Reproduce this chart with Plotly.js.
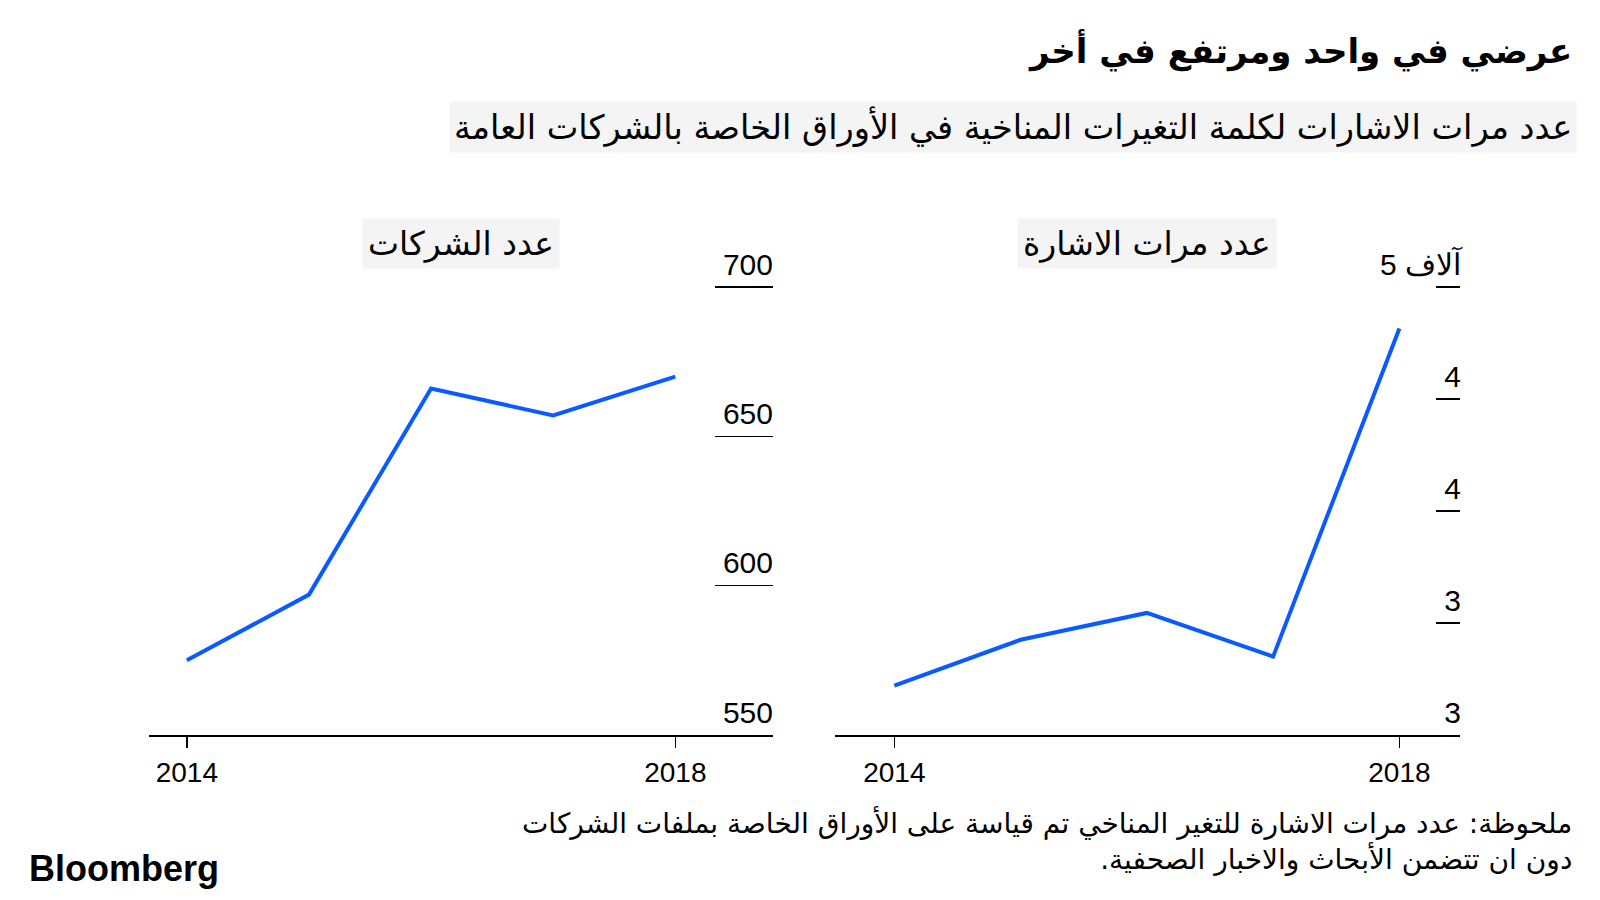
<!DOCTYPE html>
<html>
<head>
<meta charset="utf-8">
<script src="https://cdn.plot.ly/plotly-3.0.1.min.js"></script>
<style>
  html, body { margin: 0; padding: 0; background: #ffffff; }
  #chart { width: 1600px; height: 900px; }
</style>
</head>
<body>
<div id="chart"></div>
<script>
// ---- data ----
const years = [2014, 2015, 2016, 2017, 2018];
const companies = [575, 597, 666, 657, 670];          // عدد الشركات
const mentions = [3220, 3425, 3545, 3350, 4815];      // عدد مرات الاشارة
const xTickVals = [2014, 2018];
const xTickText = ['2014', '2018'];
const leftTickVals = [550, 600, 650, 700];
const leftTickText = ['550', '600', '650', '700'];
const rightTickVals = [3000, 3500, 4000, 4500, 5000];
const rightTickText = ['3', '3', '4', '4', '\u0622\u0644\u0627\u0641 5'];

const titleText = 'عرضي في واحد ومرتفع في أخر';
const subtitleText = 'عدد مرات الاشارات لكلمة التغيرات المناخية في الأوراق الخاصة بالشركات العامة';
const leftPanelTitle = 'عدد الشركات';
const rightPanelTitle = 'عدد مرات الاشارة';
const noteLine1 = 'ملحوظة: عدد مرات الاشارة للتغير المناخي تم قياسة على الأوراق الخاصة بملفات الشركات';
const noteLine2 = 'دون ان تتضمن الأبحاث والاخبار الصحفية.\u200F';

const BLUE = '#0a5bff';
const numFont = 'Liberation Sans, Arial, sans-serif';
const arFont = 'DejaVu Sans, Noto Sans, sans-serif';

const W = 1600, H = 900;
const py = v => 1 - v / H;   // pixel row -> paper y
const px = v => v / W;       // pixel col -> paper x

const traces = [
  { x: years, y: companies, xaxis: 'x', yaxis: 'y', type: 'scatter', mode: 'lines',
    line: { color: BLUE, width: 4 }, hoverinfo: 'skip' },
  { x: years, y: mentions, xaxis: 'x2', yaxis: 'y2', type: 'scatter', mode: 'lines',
    line: { color: BLUE, width: 4 }, hoverinfo: 'skip' }
];

const xBase = {
  showgrid: false, zeroline: false, showline: true, linecolor: '#000', linewidth: 2,
  ticks: 'outside', ticklen: 11, tickwidth: 1.5, tickcolor: '#000',
  tickmode: 'array', tickvals: xTickVals, ticktext: xTickText,
  tickfont: { family: numFont, size: 28, color: '#000' }, fixedrange: true
};
const yBase = {
  showgrid: false, zeroline: false, showline: false, side: 'right',
  ticks: 'inside', tickwidth: 1.5, tickcolor: '#000', tickmode: 'array',
  ticklabelposition: 'inside', ticklabeloverflow: 'allow',
  tickfont: { family: numFont, size: 30, color: '#000' }, fixedrange: true
};

// plot area: bottom tick at 735px, top tick at 287px; extra headroom above for labels
const left = { lo: 550, hi: 700 };
const right = { lo: 3000, hi: 5000 };
const headroom = 42 / 448;  // fraction of tick span added above the top tick

const layout = {
  width: W, height: H,
  margin: { l: 0, r: 0, t: 0, b: 0 },
  paper_bgcolor: '#ffffff', plot_bgcolor: 'rgba(0,0,0,0)',
  showlegend: false,
  xaxis: Object.assign({}, xBase, { domain: [px(149), px(773)], range: [2013.69, 2018.8], anchor: 'y' }),
  yaxis: Object.assign({}, yBase, { domain: [py(735), py(245)],
    range: [left.lo, left.hi + (left.hi - left.lo) * headroom], anchor: 'x',
    tickvals: leftTickVals, ticktext: leftTickText, ticklen: 58,
    ticklabelstandoff: -55, ticklabelshift: -23 }),
  xaxis2: Object.assign({}, xBase, { domain: [px(835), px(1460)], range: [2013.53, 2018.48], anchor: 'y2' }),
  yaxis2: Object.assign({}, yBase, { domain: [py(735), py(245)],
    range: [right.lo, right.hi + (right.hi - right.lo) * headroom], anchor: 'x2',
    tickvals: rightTickVals, ticktext: rightTickText, ticklen: 24,
    ticklabelstandoff: -22, ticklabelshift: -23 }),
  annotations: [
    { text: '<b>' + titleText + '</b>', xref: 'paper', yref: 'paper', x: px(1574), y: py(51),
      xanchor: 'right', yanchor: 'middle', showarrow: false,
      font: { family: arFont, size: 34, color: '#000' } },
    { text: subtitleText, xref: 'paper', yref: 'paper', x: px(1577), y: py(127),
      xanchor: 'right', yanchor: 'middle', showarrow: false, bgcolor: '#f4f4f4', borderpad: 4,
      font: { family: arFont, size: 33.6, color: '#000' } },
    { text: leftPanelTitle, xref: 'paper', yref: 'paper', x: px(461), y: py(243),
      xanchor: 'center', yanchor: 'middle', showarrow: false, bgcolor: '#f4f4f4', borderpad: 5,
      font: { family: arFont, size: 33, color: '#000' } },
    { text: rightPanelTitle, xref: 'paper', yref: 'paper', x: px(1147), y: py(243),
      xanchor: 'center', yanchor: 'middle', showarrow: false, bgcolor: '#f4f4f4', borderpad: 5,
      font: { family: arFont, size: 33, color: '#000' } },
    { text: noteLine1 + '<br>' + noteLine2, xref: 'paper', yref: 'paper', x: px(1574), y: py(840),
      xanchor: 'right', yanchor: 'middle', align: 'right', showarrow: false,
      font: { family: arFont, size: 28, color: '#000' } },
    { text: '<b>Bloomberg</b>', xref: 'paper', yref: 'paper', x: px(27), y: py(868),
      xanchor: 'left', yanchor: 'middle', showarrow: false,
      font: { family: 'Liberation Sans, Arial, sans-serif', size: 36, color: '#000' } }
  ]
};

Plotly.newPlot('chart', traces, layout, { displayModeBar: false, staticPlot: true });
</script>
</body>
</html>
